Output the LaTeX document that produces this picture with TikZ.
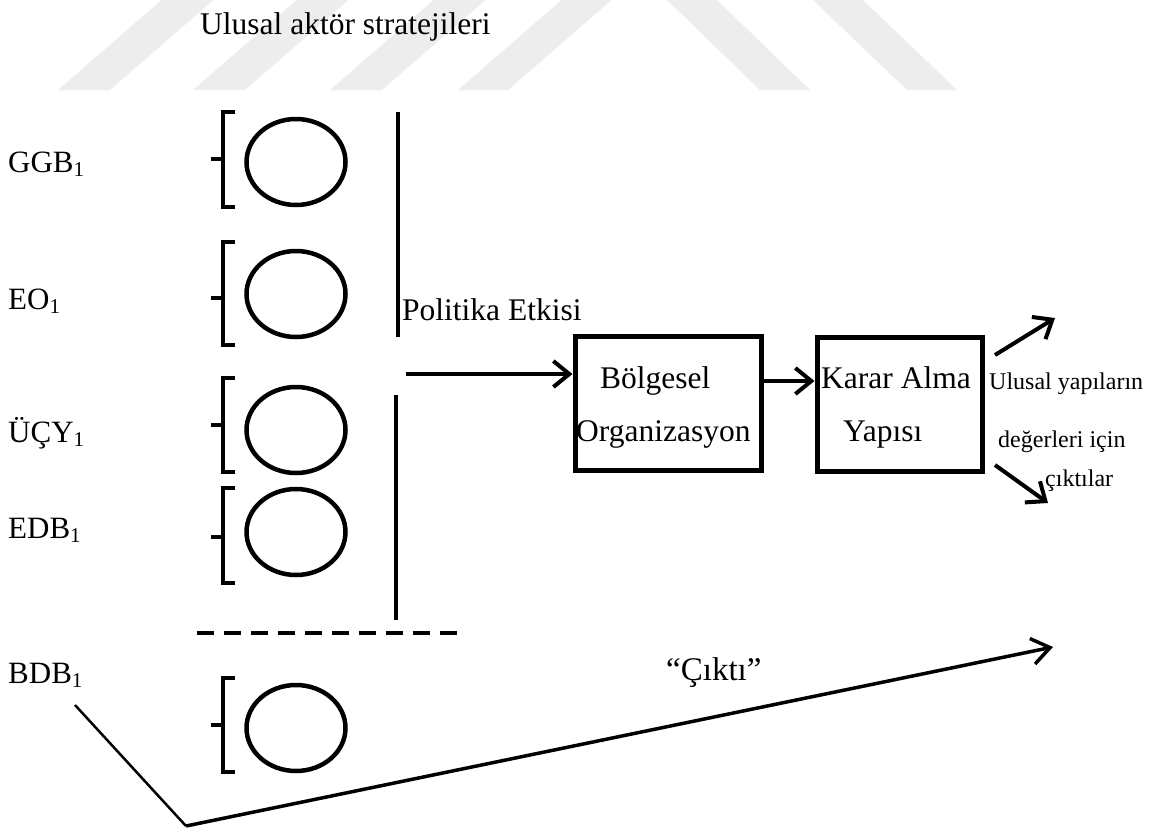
\documentclass[tikz,border=0pt]{standalone}
\usepackage{fontspec}
\setmainfont{Liberation Serif}
\usetikzlibrary{arrows.meta,shapes.geometric}
\definecolor{wm}{RGB}{237,237,237}
\newcommand{\subone}{\raisebox{-4pt}{\fontsize{21}{21}\selectfont 1}}
\begin{document}
\begin{tikzpicture}[x=1pt,y=-1pt,
  txt/.style={inner sep=0pt, anchor=base west, font=\fontsize{31.5}{36}\selectfont},
  lbl/.style={inner sep=0pt, anchor=base west, font=\fontsize{31}{36}\selectfont},
  small/.style={inner sep=0pt, anchor=base west, font=\fontsize{24}{28}\selectfont},
  actor/.style={ellipse, draw, line width=4.5pt, minimum width=99pt, minimum height=86pt, inner sep=0pt},
  orgbox/.style={rectangle, draw, line width=5pt, inner sep=0pt, minimum height=134pt},
  brk/.style={line width=3.5pt},
  arr/.style={line width=4pt, -{Straight Barb[length=16pt,width=26pt]}},
  vline/.style={line width=4pt},
]
\useasboundingbox (0,0) rectangle (1156,831);
% watermark
\fill[wm] (58,90) -- (110,90) -- (213.5,0) -- (161.5,0) -- cycle;
\fill[wm] (193,90) -- (245,90) -- (348.5,0) -- (296.5,0) -- cycle;
\fill[wm] (330,90) -- (382,90) -- (485.5,0) -- (433.5,0) -- cycle;
\fill[wm] (458,90) -- (508,90) -- (611.5,0) -- (561.5,0) -- cycle;
\fill[wm] (667,0) -- (717,0) -- (810,90) -- (760,90) -- cycle;
\fill[wm] (813,0) -- (863,0) -- (957,90) -- (907,90) -- cycle;

% title and labels
\node[txt] (title) at (200,34) {Ulusal aktör stratejileri};
\node[lbl] (ggb) at (8,172) {GGB\subone};
\node[lbl] (eo) at (8,309) {EO\subone};
\node[lbl] (ucy) at (8,442) {ÜÇY\subone};
\node[lbl] (edb) at (8,538) {EDB\subone};
\node[lbl] (bdb) at (8,683) {BDB\subone};

% actors
\node[actor] (e1) at (296,162) {};
\node[actor] (e2) at (296,294) {};
\node[actor] (e3) at (296,430) {};
\node[actor] (e4) at (296,532) {};
\node[actor] (e5) at (296,728) {};

% brackets
\foreach \t/\m/\b in {112/159/207, 242/298/345, 378/425/472, 488/537/583, 678/725/772}{
  \draw[brk] (235,\t) -- (223,\t) -- (223,\b) -- (235,\b);
  \draw[brk] (211,\m) -- (223,\m);
}

% separators
\draw[vline] (398,112) -- (398,337);
\draw[vline] (396,395) -- (396,620);
\draw[line width=4pt, dash pattern=on 17pt off 10pt] (197,633) -- (465,633);

\node[txt] (pol) at (402,320) {Politika Etkisi};

% boxes
\node[orgbox, minimum width=186pt] (box1) at (668,403) {};
\node[orgbox, minimum width=165pt] (box2) at (899.5,404) {};
\node[txt] (b1a) at (600,388) {Bölgesel};
\node[txt] (b1b) at (576,441) {Organizasyon};
\node[txt] (b2a) at (821,388) {Karar Alma};
\node[txt] (b2b) at (843,441) {Yapısı};

% arrows
\coordinate (a1) at (406,374);
\draw[arr] (a1) -- (a1 -| box1.west);
\coordinate (a2) at (761,381);
\draw[arr] (a2 -| box1.east) -- (a2 -| box2.west);
\coordinate (u1) at (995,355);
\coordinate (u2) at (1055,318);
\draw[arr] (u1) -- (u2);
\coordinate (d1) at (995,465);
\coordinate (d2) at (1048,503);
\draw[arr] (d1) -- (d2);

\node[small] (o1) at (989,389) {Ulusal yapıların};
\node[small] (o2) at (998,447) {değerleri için};
\node[small] (o3) at (1045,486) {çıktılar};

% output line
\coordinate (b0) at (75,705);
\coordinate (bv) at (186,826);
\coordinate (bt) at (1053,647);
\draw[line width=2.5pt] (b0) -- (bv);
\draw[line width=3.5pt, -{Straight Barb[length=18pt,width=26pt]}] (bv) -- (bt);
\node[txt, font=\fontsize{33}{36}\selectfont] (cikti) at (666,680) {“Çıktı”};
\end{tikzpicture}
\end{document}
